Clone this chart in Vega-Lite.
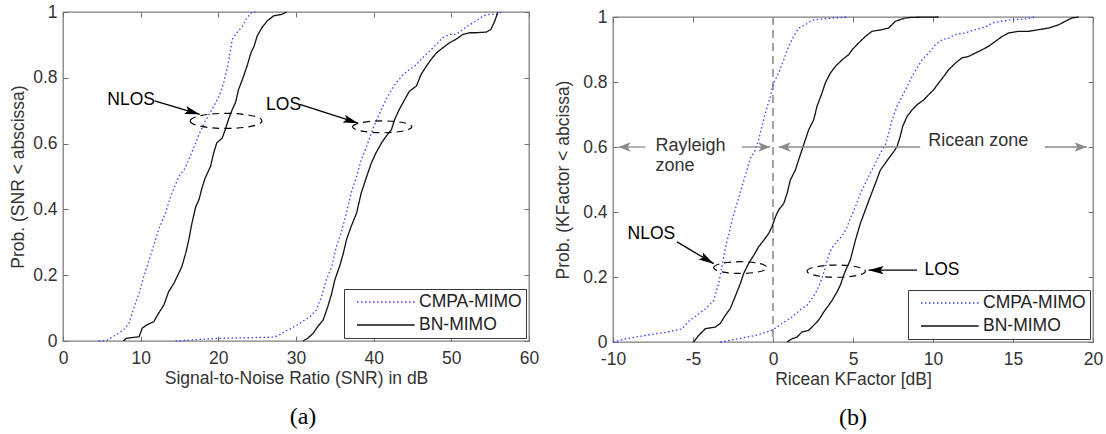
{
  "$schema": "https://vega.github.io/schema/vega-lite/v6.json",
  "background": "white",
  "padding": {"left": 9, "top": 2, "right": 0, "bottom": 0},
  "config": {
    "font": "Liberation Sans",
    "view": {"stroke": "#7f7f7f", "strokeWidth": 1.3},
    "axis": {"grid": false, "domain": false, "ticks": true, "tickSize": -5, "tickColor": "#707070", "tickWidth": 1, "labelFontSize": 17.5, "labelColor": "#333333", "titleFontSize": 17.5, "titleFontWeight": "normal", "titleColor": "#333333", "labelFlush": false, "labelOverlap": false, "labelBound": false},
    "legend": {"orient": "bottom-right", "offset": 3, "padding": 4, "fillColor": "white", "strokeColor": "#3a3a3a", "labelFontSize": 17.5, "labelColor": "#222222", "symbolType": "M0,0L7.2,0", "symbolSize": 256, "symbolStrokeWidth": 1.5, "labelOffset": 53, "rowPadding": 5},
    "title": {"font": "Liberation Serif", "fontSize": 24, "fontWeight": "normal", "color": "#000000"}
  },
  "datasets": {
    "a_curves": [
      {"method":"CMPA-MIMO","scen":"NLOS","x":4.6,"p":0},{"method":"CMPA-MIMO","scen":"NLOS","x":5.7,"p":0.003},{"method":"CMPA-MIMO","scen":"NLOS","x":6.8,"p":0.018},{"method":"CMPA-MIMO","scen":"NLOS","x":7.8,"p":0.034},{"method":"CMPA-MIMO","scen":"NLOS","x":8.5,"p":0.054},{"method":"CMPA-MIMO","scen":"NLOS","x":9.1,"p":0.1},{"method":"CMPA-MIMO","scen":"NLOS","x":9.8,"p":0.145},{"method":"CMPA-MIMO","scen":"NLOS","x":10.4,"p":0.196},{"method":"CMPA-MIMO","scen":"NLOS","x":11.1,"p":0.247},{"method":"CMPA-MIMO","scen":"NLOS","x":11.7,"p":0.292},{"method":"CMPA-MIMO","scen":"NLOS","x":12.3,"p":0.338},{"method":"CMPA-MIMO","scen":"NLOS","x":13.2,"p":0.389},{"method":"CMPA-MIMO","scen":"NLOS","x":13.8,"p":0.435},{"method":"CMPA-MIMO","scen":"NLOS","x":14.3,"p":0.465},{"method":"CMPA-MIMO","scen":"NLOS","x":14.9,"p":0.5},{"method":"CMPA-MIMO","scen":"NLOS","x":15.6,"p":0.521},{"method":"CMPA-MIMO","scen":"NLOS","x":16.2,"p":0.551},{"method":"CMPA-MIMO","scen":"NLOS","x":16.9,"p":0.592},{"method":"CMPA-MIMO","scen":"NLOS","x":17.5,"p":0.627},{"method":"CMPA-MIMO","scen":"NLOS","x":18.3,"p":0.668},{"method":"CMPA-MIMO","scen":"NLOS","x":19.2,"p":0.704},{"method":"CMPA-MIMO","scen":"NLOS","x":20.1,"p":0.744},{"method":"CMPA-MIMO","scen":"NLOS","x":20.7,"p":0.785},{"method":"CMPA-MIMO","scen":"NLOS","x":21.3,"p":0.846},{"method":"CMPA-MIMO","scen":"NLOS","x":21.8,"p":0.917},{"method":"CMPA-MIMO","scen":"NLOS","x":22.4,"p":0.937},{"method":"CMPA-MIMO","scen":"NLOS","x":23.1,"p":0.957},{"method":"CMPA-MIMO","scen":"NLOS","x":23.7,"p":0.983},{"method":"CMPA-MIMO","scen":"NLOS","x":24.3,"p":0.998},{"method":"CMPA-MIMO","scen":"NLOS","x":24.8,"p":1},
      {"method":"BN-MIMO","scen":"NLOS","x":7.8,"p":0},{"method":"BN-MIMO","scen":"NLOS","x":8.1,"p":0.008},{"method":"BN-MIMO","scen":"NLOS","x":9.8,"p":0.013},{"method":"BN-MIMO","scen":"NLOS","x":10.2,"p":0.039},{"method":"BN-MIMO","scen":"NLOS","x":10.8,"p":0.049},{"method":"BN-MIMO","scen":"NLOS","x":11.7,"p":0.059},{"method":"BN-MIMO","scen":"NLOS","x":12.3,"p":0.084},{"method":"BN-MIMO","scen":"NLOS","x":13.0,"p":0.11},{"method":"BN-MIMO","scen":"NLOS","x":13.6,"p":0.15},{"method":"BN-MIMO","scen":"NLOS","x":14.3,"p":0.176},{"method":"BN-MIMO","scen":"NLOS","x":14.9,"p":0.206},{"method":"BN-MIMO","scen":"NLOS","x":15.3,"p":0.226},{"method":"BN-MIMO","scen":"NLOS","x":15.8,"p":0.267},{"method":"BN-MIMO","scen":"NLOS","x":16.2,"p":0.308},{"method":"BN-MIMO","scen":"NLOS","x":16.6,"p":0.358},{"method":"BN-MIMO","scen":"NLOS","x":17.1,"p":0.409},{"method":"BN-MIMO","scen":"NLOS","x":17.5,"p":0.429},{"method":"BN-MIMO","scen":"NLOS","x":17.9,"p":0.465},{"method":"BN-MIMO","scen":"NLOS","x":18.3,"p":0.495},{"method":"BN-MIMO","scen":"NLOS","x":19.0,"p":0.531},{"method":"BN-MIMO","scen":"NLOS","x":19.4,"p":0.572},{"method":"BN-MIMO","scen":"NLOS","x":19.8,"p":0.602},{"method":"BN-MIMO","scen":"NLOS","x":20.5,"p":0.617},{"method":"BN-MIMO","scen":"NLOS","x":20.9,"p":0.643},{"method":"BN-MIMO","scen":"NLOS","x":21.3,"p":0.673},{"method":"BN-MIMO","scen":"NLOS","x":21.8,"p":0.704},{"method":"BN-MIMO","scen":"NLOS","x":22.2,"p":0.724},{"method":"BN-MIMO","scen":"NLOS","x":22.6,"p":0.764},{"method":"BN-MIMO","scen":"NLOS","x":23.1,"p":0.795},{"method":"BN-MIMO","scen":"NLOS","x":23.7,"p":0.836},{"method":"BN-MIMO","scen":"NLOS","x":24.2,"p":0.876},{"method":"BN-MIMO","scen":"NLOS","x":24.6,"p":0.896},{"method":"BN-MIMO","scen":"NLOS","x":25.0,"p":0.927},{"method":"BN-MIMO","scen":"NLOS","x":25.6,"p":0.952},{"method":"BN-MIMO","scen":"NLOS","x":26.3,"p":0.973},{"method":"BN-MIMO","scen":"NLOS","x":27.1,"p":0.988},{"method":"BN-MIMO","scen":"NLOS","x":28.2,"p":0.993},{"method":"BN-MIMO","scen":"NLOS","x":28.8,"p":1},
      {"method":"CMPA-MIMO","scen":"LOS","x":14.5,"p":0},{"method":"CMPA-MIMO","scen":"LOS","x":17,"p":0.004},{"method":"CMPA-MIMO","scen":"LOS","x":20,"p":0.008},{"method":"CMPA-MIMO","scen":"LOS","x":24,"p":0.01},{"method":"CMPA-MIMO","scen":"LOS","x":27.2,"p":0.012},{"method":"CMPA-MIMO","scen":"LOS","x":28.0,"p":0.02},{"method":"CMPA-MIMO","scen":"LOS","x":28.6,"p":0.03},{"method":"CMPA-MIMO","scen":"LOS","x":29.2,"p":0.036},{"method":"CMPA-MIMO","scen":"LOS","x":30.5,"p":0.054},{"method":"CMPA-MIMO","scen":"LOS","x":31.8,"p":0.074},{"method":"CMPA-MIMO","scen":"LOS","x":32.6,"p":0.094},{"method":"CMPA-MIMO","scen":"LOS","x":33.3,"p":0.135},{"method":"CMPA-MIMO","scen":"LOS","x":33.9,"p":0.186},{"method":"CMPA-MIMO","scen":"LOS","x":34.6,"p":0.226},{"method":"CMPA-MIMO","scen":"LOS","x":35.2,"p":0.287},{"method":"CMPA-MIMO","scen":"LOS","x":35.8,"p":0.328},{"method":"CMPA-MIMO","scen":"LOS","x":36.5,"p":0.389},{"method":"CMPA-MIMO","scen":"LOS","x":37.1,"p":0.45},{"method":"CMPA-MIMO","scen":"LOS","x":37.8,"p":0.5},{"method":"CMPA-MIMO","scen":"LOS","x":38.4,"p":0.551},{"method":"CMPA-MIMO","scen":"LOS","x":39.1,"p":0.592},{"method":"CMPA-MIMO","scen":"LOS","x":39.7,"p":0.632},{"method":"CMPA-MIMO","scen":"LOS","x":40.3,"p":0.668},{"method":"CMPA-MIMO","scen":"LOS","x":41.0,"p":0.704},{"method":"CMPA-MIMO","scen":"LOS","x":41.6,"p":0.734},{"method":"CMPA-MIMO","scen":"LOS","x":42.3,"p":0.764},{"method":"CMPA-MIMO","scen":"LOS","x":42.9,"p":0.785},{"method":"CMPA-MIMO","scen":"LOS","x":43.8,"p":0.81},{"method":"CMPA-MIMO","scen":"LOS","x":44.6,"p":0.825},{"method":"CMPA-MIMO","scen":"LOS","x":45.5,"p":0.84},{"method":"CMPA-MIMO","scen":"LOS","x":46.3,"p":0.861},{"method":"CMPA-MIMO","scen":"LOS","x":47.2,"p":0.881},{"method":"CMPA-MIMO","scen":"LOS","x":48.1,"p":0.902},{"method":"CMPA-MIMO","scen":"LOS","x":48.9,"p":0.922},{"method":"CMPA-MIMO","scen":"LOS","x":49.8,"p":0.932},{"method":"CMPA-MIMO","scen":"LOS","x":50.6,"p":0.932},{"method":"CMPA-MIMO","scen":"LOS","x":51.5,"p":0.947},{"method":"CMPA-MIMO","scen":"LOS","x":52.4,"p":0.962},{"method":"CMPA-MIMO","scen":"LOS","x":53.2,"p":0.973},{"method":"CMPA-MIMO","scen":"LOS","x":54.1,"p":0.988},{"method":"CMPA-MIMO","scen":"LOS","x":54.9,"p":0.993},{"method":"CMPA-MIMO","scen":"LOS","x":55.8,"p":0.993},{"method":"CMPA-MIMO","scen":"LOS","x":56.6,"p":1},
      {"method":"BN-MIMO","scen":"LOS","x":30.9,"p":0},{"method":"BN-MIMO","scen":"LOS","x":31.5,"p":0.008},{"method":"BN-MIMO","scen":"LOS","x":32.2,"p":0.023},{"method":"BN-MIMO","scen":"LOS","x":32.8,"p":0.044},{"method":"BN-MIMO","scen":"LOS","x":33.5,"p":0.064},{"method":"BN-MIMO","scen":"LOS","x":34.1,"p":0.105},{"method":"BN-MIMO","scen":"LOS","x":34.6,"p":0.145},{"method":"BN-MIMO","scen":"LOS","x":35.0,"p":0.186},{"method":"BN-MIMO","scen":"LOS","x":35.6,"p":0.226},{"method":"BN-MIMO","scen":"LOS","x":36.1,"p":0.267},{"method":"BN-MIMO","scen":"LOS","x":36.5,"p":0.308},{"method":"BN-MIMO","scen":"LOS","x":37.1,"p":0.348},{"method":"BN-MIMO","scen":"LOS","x":37.8,"p":0.389},{"method":"BN-MIMO","scen":"LOS","x":38.4,"p":0.45},{"method":"BN-MIMO","scen":"LOS","x":39.1,"p":0.5},{"method":"BN-MIMO","scen":"LOS","x":39.7,"p":0.541},{"method":"BN-MIMO","scen":"LOS","x":40.3,"p":0.572},{"method":"BN-MIMO","scen":"LOS","x":41.0,"p":0.602},{"method":"BN-MIMO","scen":"LOS","x":41.6,"p":0.622},{"method":"BN-MIMO","scen":"LOS","x":42.3,"p":0.643},{"method":"BN-MIMO","scen":"LOS","x":42.7,"p":0.673},{"method":"BN-MIMO","scen":"LOS","x":43.3,"p":0.704},{"method":"BN-MIMO","scen":"LOS","x":44.0,"p":0.734},{"method":"BN-MIMO","scen":"LOS","x":44.6,"p":0.759},{"method":"BN-MIMO","scen":"LOS","x":45.5,"p":0.775},{"method":"BN-MIMO","scen":"LOS","x":46.1,"p":0.81},{"method":"BN-MIMO","scen":"LOS","x":46.8,"p":0.836},{"method":"BN-MIMO","scen":"LOS","x":47.4,"p":0.856},{"method":"BN-MIMO","scen":"LOS","x":48.1,"p":0.876},{"method":"BN-MIMO","scen":"LOS","x":48.9,"p":0.891},{"method":"BN-MIMO","scen":"LOS","x":49.8,"p":0.907},{"method":"BN-MIMO","scen":"LOS","x":50.6,"p":0.917},{"method":"BN-MIMO","scen":"LOS","x":51.5,"p":0.932},{"method":"BN-MIMO","scen":"LOS","x":52.4,"p":0.937},{"method":"BN-MIMO","scen":"LOS","x":53.2,"p":0.937},{"method":"BN-MIMO","scen":"LOS","x":54.5,"p":0.939},{"method":"BN-MIMO","scen":"LOS","x":55.1,"p":0.947},{"method":"BN-MIMO","scen":"LOS","x":55.6,"p":0.973},{"method":"BN-MIMO","scen":"LOS","x":56.0,"p":1}
    ],
    "b_curves": [
      {"method":"CMPA-MIMO","scen":"NLOS","x":-10,"p":0},{"method":"CMPA-MIMO","scen":"NLOS","x":-9.2,"p":0.01},{"method":"CMPA-MIMO","scen":"NLOS","x":-8.0,"p":0.02},{"method":"CMPA-MIMO","scen":"NLOS","x":-6.7,"p":0.03},{"method":"CMPA-MIMO","scen":"NLOS","x":-5.7,"p":0.04},{"method":"CMPA-MIMO","scen":"NLOS","x":-5.2,"p":0.067},{"method":"CMPA-MIMO","scen":"NLOS","x":-4.75,"p":0.082},{"method":"CMPA-MIMO","scen":"NLOS","x":-4.2,"p":0.103},{"method":"CMPA-MIMO","scen":"NLOS","x":-3.7,"p":0.128},{"method":"CMPA-MIMO","scen":"NLOS","x":-3.4,"p":0.18},{"method":"CMPA-MIMO","scen":"NLOS","x":-3.2,"p":0.23},{"method":"CMPA-MIMO","scen":"NLOS","x":-3.0,"p":0.283},{"method":"CMPA-MIMO","scen":"NLOS","x":-2.8,"p":0.324},{"method":"CMPA-MIMO","scen":"NLOS","x":-2.56,"p":0.375},{"method":"CMPA-MIMO","scen":"NLOS","x":-2.25,"p":0.426},{"method":"CMPA-MIMO","scen":"NLOS","x":-1.94,"p":0.478},{"method":"CMPA-MIMO","scen":"NLOS","x":-1.63,"p":0.529},{"method":"CMPA-MIMO","scen":"NLOS","x":-1.42,"p":0.565},{"method":"CMPA-MIMO","scen":"NLOS","x":-1.1,"p":0.591},{"method":"CMPA-MIMO","scen":"NLOS","x":-0.9,"p":0.622},{"method":"CMPA-MIMO","scen":"NLOS","x":-0.69,"p":0.663},{"method":"CMPA-MIMO","scen":"NLOS","x":-0.48,"p":0.704},{"method":"CMPA-MIMO","scen":"NLOS","x":-0.17,"p":0.755},{"method":"CMPA-MIMO","scen":"NLOS","x":0.04,"p":0.797},{"method":"CMPA-MIMO","scen":"NLOS","x":0.35,"p":0.827},{"method":"CMPA-MIMO","scen":"NLOS","x":0.67,"p":0.868},{"method":"CMPA-MIMO","scen":"NLOS","x":0.98,"p":0.91},{"method":"CMPA-MIMO","scen":"NLOS","x":1.29,"p":0.94},{"method":"CMPA-MIMO","scen":"NLOS","x":1.6,"p":0.966},{"method":"CMPA-MIMO","scen":"NLOS","x":2.02,"p":0.976},{"method":"CMPA-MIMO","scen":"NLOS","x":2.44,"p":0.99},{"method":"CMPA-MIMO","scen":"NLOS","x":3.06,"p":0.994},{"method":"CMPA-MIMO","scen":"NLOS","x":3.9,"p":0.997},{"method":"CMPA-MIMO","scen":"NLOS","x":4.7,"p":1},
      {"method":"BN-MIMO","scen":"NLOS","x":-4.96,"p":0},{"method":"BN-MIMO","scen":"NLOS","x":-4.65,"p":0.02},{"method":"BN-MIMO","scen":"NLOS","x":-4.23,"p":0.041},{"method":"BN-MIMO","scen":"NLOS","x":-3.6,"p":0.046},{"method":"BN-MIMO","scen":"NLOS","x":-3.3,"p":0.057},{"method":"BN-MIMO","scen":"NLOS","x":-2.98,"p":0.082},{"method":"BN-MIMO","scen":"NLOS","x":-2.67,"p":0.103},{"method":"BN-MIMO","scen":"NLOS","x":-2.46,"p":0.128},{"method":"BN-MIMO","scen":"NLOS","x":-2.25,"p":0.154},{"method":"BN-MIMO","scen":"NLOS","x":-2.04,"p":0.18},{"method":"BN-MIMO","scen":"NLOS","x":-1.83,"p":0.211},{"method":"BN-MIMO","scen":"NLOS","x":-1.52,"p":0.242},{"method":"BN-MIMO","scen":"NLOS","x":-1.2,"p":0.267},{"method":"BN-MIMO","scen":"NLOS","x":-0.9,"p":0.293},{"method":"BN-MIMO","scen":"NLOS","x":-0.58,"p":0.313},{"method":"BN-MIMO","scen":"NLOS","x":-0.27,"p":0.334},{"method":"BN-MIMO","scen":"NLOS","x":-0.06,"p":0.355},{"method":"BN-MIMO","scen":"NLOS","x":0.15,"p":0.385},{"method":"BN-MIMO","scen":"NLOS","x":0.35,"p":0.406},{"method":"BN-MIMO","scen":"NLOS","x":0.67,"p":0.426},{"method":"BN-MIMO","scen":"NLOS","x":0.88,"p":0.457},{"method":"BN-MIMO","scen":"NLOS","x":1.08,"p":0.498},{"method":"BN-MIMO","scen":"NLOS","x":1.4,"p":0.529},{"method":"BN-MIMO","scen":"NLOS","x":1.6,"p":0.56},{"method":"BN-MIMO","scen":"NLOS","x":1.81,"p":0.591},{"method":"BN-MIMO","scen":"NLOS","x":2.02,"p":0.622},{"method":"BN-MIMO","scen":"NLOS","x":2.23,"p":0.653},{"method":"BN-MIMO","scen":"NLOS","x":2.54,"p":0.683},{"method":"BN-MIMO","scen":"NLOS","x":2.75,"p":0.725},{"method":"BN-MIMO","scen":"NLOS","x":3.06,"p":0.766},{"method":"BN-MIMO","scen":"NLOS","x":3.27,"p":0.797},{"method":"BN-MIMO","scen":"NLOS","x":3.58,"p":0.827},{"method":"BN-MIMO","scen":"NLOS","x":3.9,"p":0.848},{"method":"BN-MIMO","scen":"NLOS","x":4.31,"p":0.868},{"method":"BN-MIMO","scen":"NLOS","x":4.73,"p":0.884},{"method":"BN-MIMO","scen":"NLOS","x":4.94,"p":0.899},{"method":"BN-MIMO","scen":"NLOS","x":5.35,"p":0.92},{"method":"BN-MIMO","scen":"NLOS","x":5.77,"p":0.94},{"method":"BN-MIMO","scen":"NLOS","x":6.19,"p":0.956},{"method":"BN-MIMO","scen":"NLOS","x":6.81,"p":0.961},{"method":"BN-MIMO","scen":"NLOS","x":7.23,"p":0.966},{"method":"BN-MIMO","scen":"NLOS","x":7.65,"p":0.987},{"method":"BN-MIMO","scen":"NLOS","x":8.27,"p":0.997},{"method":"BN-MIMO","scen":"NLOS","x":8.69,"p":0.999},{"method":"BN-MIMO","scen":"NLOS","x":10.35,"p":1},
      {"method":"CMPA-MIMO","scen":"LOS","x":-3.3,"p":0},{"method":"CMPA-MIMO","scen":"LOS","x":-2.15,"p":0.01},{"method":"CMPA-MIMO","scen":"LOS","x":-1.1,"p":0.02},{"method":"CMPA-MIMO","scen":"LOS","x":-0.06,"p":0.036},{"method":"CMPA-MIMO","scen":"LOS","x":0.56,"p":0.057},{"method":"CMPA-MIMO","scen":"LOS","x":1.19,"p":0.077},{"method":"CMPA-MIMO","scen":"LOS","x":1.81,"p":0.103},{"method":"CMPA-MIMO","scen":"LOS","x":2.13,"p":0.113},{"method":"CMPA-MIMO","scen":"LOS","x":2.44,"p":0.134},{"method":"CMPA-MIMO","scen":"LOS","x":2.75,"p":0.159},{"method":"CMPA-MIMO","scen":"LOS","x":3.06,"p":0.195},{"method":"CMPA-MIMO","scen":"LOS","x":3.27,"p":0.231},{"method":"CMPA-MIMO","scen":"LOS","x":3.48,"p":0.267},{"method":"CMPA-MIMO","scen":"LOS","x":3.69,"p":0.29},{"method":"CMPA-MIMO","scen":"LOS","x":4.0,"p":0.31},{"method":"CMPA-MIMO","scen":"LOS","x":4.3,"p":0.325},{"method":"CMPA-MIMO","scen":"LOS","x":4.6,"p":0.35},{"method":"CMPA-MIMO","scen":"LOS","x":4.83,"p":0.38},{"method":"CMPA-MIMO","scen":"LOS","x":5.15,"p":0.416},{"method":"CMPA-MIMO","scen":"LOS","x":5.46,"p":0.457},{"method":"CMPA-MIMO","scen":"LOS","x":5.77,"p":0.488},{"method":"CMPA-MIMO","scen":"LOS","x":6.08,"p":0.519},{"method":"CMPA-MIMO","scen":"LOS","x":6.4,"p":0.55},{"method":"CMPA-MIMO","scen":"LOS","x":6.71,"p":0.581},{"method":"CMPA-MIMO","scen":"LOS","x":7.02,"p":0.606},{"method":"CMPA-MIMO","scen":"LOS","x":7.23,"p":0.642},{"method":"CMPA-MIMO","scen":"LOS","x":7.44,"p":0.683},{"method":"CMPA-MIMO","scen":"LOS","x":7.75,"p":0.725},{"method":"CMPA-MIMO","scen":"LOS","x":8.06,"p":0.755},{"method":"CMPA-MIMO","scen":"LOS","x":8.38,"p":0.786},{"method":"CMPA-MIMO","scen":"LOS","x":8.69,"p":0.817},{"method":"CMPA-MIMO","scen":"LOS","x":9.0,"p":0.843},{"method":"CMPA-MIMO","scen":"LOS","x":9.31,"p":0.868},{"method":"CMPA-MIMO","scen":"LOS","x":9.73,"p":0.889},{"method":"CMPA-MIMO","scen":"LOS","x":10.15,"p":0.915},{"method":"CMPA-MIMO","scen":"LOS","x":10.56,"p":0.93},{"method":"CMPA-MIMO","scen":"LOS","x":10.98,"p":0.935},{"method":"CMPA-MIMO","scen":"LOS","x":11.4,"p":0.946},{"method":"CMPA-MIMO","scen":"LOS","x":12.02,"p":0.951},{"method":"CMPA-MIMO","scen":"LOS","x":12.65,"p":0.961},{"method":"CMPA-MIMO","scen":"LOS","x":13.27,"p":0.969},{"method":"CMPA-MIMO","scen":"LOS","x":13.69,"p":0.981},{"method":"CMPA-MIMO","scen":"LOS","x":14.31,"p":0.987},{"method":"CMPA-MIMO","scen":"LOS","x":14.94,"p":0.992},{"method":"CMPA-MIMO","scen":"LOS","x":15.77,"p":0.994},{"method":"CMPA-MIMO","scen":"LOS","x":16.4,"p":1},
      {"method":"BN-MIMO","scen":"LOS","x":0.88,"p":0},{"method":"BN-MIMO","scen":"LOS","x":1.19,"p":0.01},{"method":"BN-MIMO","scen":"LOS","x":1.5,"p":0.015},{"method":"BN-MIMO","scen":"LOS","x":1.81,"p":0.031},{"method":"BN-MIMO","scen":"LOS","x":2.23,"p":0.036},{"method":"BN-MIMO","scen":"LOS","x":2.54,"p":0.051},{"method":"BN-MIMO","scen":"LOS","x":2.85,"p":0.067},{"method":"BN-MIMO","scen":"LOS","x":3.17,"p":0.092},{"method":"BN-MIMO","scen":"LOS","x":3.48,"p":0.113},{"method":"BN-MIMO","scen":"LOS","x":3.69,"p":0.128},{"method":"BN-MIMO","scen":"LOS","x":4.0,"p":0.154},{"method":"BN-MIMO","scen":"LOS","x":4.21,"p":0.175},{"method":"BN-MIMO","scen":"LOS","x":4.42,"p":0.206},{"method":"BN-MIMO","scen":"LOS","x":4.63,"p":0.231},{"method":"BN-MIMO","scen":"LOS","x":4.83,"p":0.252},{"method":"BN-MIMO","scen":"LOS","x":5.15,"p":0.313},{"method":"BN-MIMO","scen":"LOS","x":5.46,"p":0.365},{"method":"BN-MIMO","scen":"LOS","x":5.77,"p":0.406},{"method":"BN-MIMO","scen":"LOS","x":6.08,"p":0.447},{"method":"BN-MIMO","scen":"LOS","x":6.4,"p":0.488},{"method":"BN-MIMO","scen":"LOS","x":6.71,"p":0.529},{"method":"BN-MIMO","scen":"LOS","x":7.02,"p":0.55},{"method":"BN-MIMO","scen":"LOS","x":7.23,"p":0.565},{"method":"BN-MIMO","scen":"LOS","x":7.54,"p":0.585},{"method":"BN-MIMO","scen":"LOS","x":7.75,"p":0.601},{"method":"BN-MIMO","scen":"LOS","x":7.95,"p":0.632},{"method":"BN-MIMO","scen":"LOS","x":8.1,"p":0.663},{"method":"BN-MIMO","scen":"LOS","x":8.38,"p":0.694},{"method":"BN-MIMO","scen":"LOS","x":8.69,"p":0.714},{"method":"BN-MIMO","scen":"LOS","x":9.0,"p":0.73},{"method":"BN-MIMO","scen":"LOS","x":9.42,"p":0.745},{"method":"BN-MIMO","scen":"LOS","x":9.73,"p":0.761},{"method":"BN-MIMO","scen":"LOS","x":10.04,"p":0.776},{"method":"BN-MIMO","scen":"LOS","x":10.35,"p":0.797},{"method":"BN-MIMO","scen":"LOS","x":10.67,"p":0.817},{"method":"BN-MIMO","scen":"LOS","x":10.98,"p":0.838},{"method":"BN-MIMO","scen":"LOS","x":11.4,"p":0.858},{"method":"BN-MIMO","scen":"LOS","x":11.81,"p":0.874},{"method":"BN-MIMO","scen":"LOS","x":12.23,"p":0.879},{"method":"BN-MIMO","scen":"LOS","x":12.65,"p":0.889},{"method":"BN-MIMO","scen":"LOS","x":13.06,"p":0.899},{"method":"BN-MIMO","scen":"LOS","x":13.48,"p":0.91},{"method":"BN-MIMO","scen":"LOS","x":13.9,"p":0.925},{"method":"BN-MIMO","scen":"LOS","x":14.31,"p":0.94},{"method":"BN-MIMO","scen":"LOS","x":14.73,"p":0.951},{"method":"BN-MIMO","scen":"LOS","x":15.35,"p":0.956},{"method":"BN-MIMO","scen":"LOS","x":15.98,"p":0.956},{"method":"BN-MIMO","scen":"LOS","x":16.6,"p":0.961},{"method":"BN-MIMO","scen":"LOS","x":17.23,"p":0.966},{"method":"BN-MIMO","scen":"LOS","x":17.85,"p":0.976},{"method":"BN-MIMO","scen":"LOS","x":18.27,"p":0.987},{"method":"BN-MIMO","scen":"LOS","x":18.69,"p":0.997},{"method":"BN-MIMO","scen":"LOS","x":19.1,"p":1}
    ],
    "a_text": [{"label":"NLOS","x":8.78,"p":0.734},{"label":"LOS","x":28.4,"p":0.716}],
    "a_arrows": [{"id":"nlos","x":11.8,"p":0.73,"x2":17.6,"p2":0.689},{"id":"los","x":30.5,"p":0.719,"x2":38.0,"p2":0.662}],
    "a_ell": [{"id":"nlos","x":21.0,"p":0.669},{"id":"los","x":41.1,"p":0.651}],
    "b_text": [{"label":"NLOS","x":-7.6,"p":0.331},{"label":"LOS","x":10.56,"p":0.221}],
    "b_arrows": [{"id":"nlos","x":-6.0,"p":0.308,"x2":-3.71,"p2":0.241},{"id":"los","x":9.0,"p":0.221,"x2":5.97,"p2":0.221}],
    "b_zone_arrows": [{"id":"r1","x":-7.98,"p":0.6,"x2":-9.65,"p2":0.6},{"id":"r2","x":-1.94,"p":0.6,"x2":-0.17,"p2":0.6},{"id":"r3","x":9.2,"p":0.6,"x2":0.35,"p2":0.6},{"id":"r4","x":17.0,"p":0.6,"x2":19.6,"p2":0.6}],
    "b_zone_text": [{"label":"Rayleigh","x":-7.35,"p":0.603,"side":"left"},{"label":"zone","x":-7.35,"p":0.541,"side":"left"},{"label":"Ricean zone","x":12.83,"p":0.619,"side":"right"}],
    "b_ell": [{"id":"nlos","x":-2.04,"p":0.229},{"id":"los","x":3.95,"p":0.218}],
    "b_zero": [{"x":0}]
  },
  "hconcat": [
    {
      "width": 466,
      "height": 329,
      "title": {"text": "(a)", "orient": "bottom", "frame": "group", "offset": 18, "dx": 7},
      "layer": [
        {
          "data": {"name": "a_curves"},
          "mark": {"type": "line", "strokeWidth": 1.3},
          "encoding": {
            "x": {"field": "x", "type": "quantitative", "scale": {"domain": [0, 60], "nice": false, "zero": false}, "axis": {"values": [0, 10, 20, 30, 40, 50, 60], "title": "Signal-to-Noise Ratio (SNR) in dB", "labelPadding": 13, "titlePadding": 3}},
            "y": {"field": "p", "type": "quantitative", "scale": {"domain": [0, 1], "nice": false}, "axis": {"values": [0, 0.2, 0.4, 0.6, 0.8, 1], "format": "~g", "title": "Prob. (SNR < abscissa)", "labelPadding": 11, "titlePadding": 5}},
            "color": {"field": "method", "type": "nominal", "scale": {"domain": ["CMPA-MIMO", "BN-MIMO"], "range": ["#3344ff", "#111111"]}, "legend": {"title": null}},
            "strokeDash": {"field": "method", "type": "nominal", "scale": {"domain": ["CMPA-MIMO", "BN-MIMO"], "range": [[1.5, 2.5], [1, 0]]}, "legend": {"title": null}},
            "detail": {"field": "scen", "type": "nominal"}
          }
        },
        {
          "data": {"name": "a_curves"},
          "mark": {"type": "line", "opacity": 0},
          "encoding": {
            "x": {"field": "x", "type": "quantitative", "axis": {"orient": "top", "values": [0, 10, 20, 30, 40, 50, 60], "labels": false, "title": null}},
            "y": {"field": "p", "type": "quantitative", "axis": {"orient": "right", "values": [0, 0.2, 0.4, 0.6, 0.8, 1], "labels": false, "title": null}},
            "detail": {"field": "scen", "type": "nominal"}
          }
        },
        {
          "data": {"name": "a_ell"},
          "transform": [{"filter": "datum.id == 'nlos'"}],
          "mark": {"type": "point", "shape": "M-1,0A1,0.21,0,1,1,1,0A1,0.21,0,1,1,-1,0Z", "size": 5141, "filled": false, "color": "#000000", "opacity": 1, "strokeWidth": 1.2, "strokeDash": [7, 5]},
          "encoding": {"x": {"field": "x", "type": "quantitative", "axis": null}, "y": {"field": "p", "type": "quantitative", "axis": null}}
        },
        {
          "data": {"name": "a_ell"},
          "transform": [{"filter": "datum.id == 'los'"}],
          "mark": {"type": "point", "shape": "M-1,0A1,0.2,0,1,1,1,0A1,0.2,0,1,1,-1,0Z", "size": 3516, "filled": false, "color": "#000000", "opacity": 1, "strokeWidth": 1.2, "strokeDash": [7, 5]},
          "encoding": {"x": {"field": "x", "type": "quantitative", "axis": null}, "y": {"field": "p", "type": "quantitative", "axis": null}}
        },
        {
          "data": {"name": "a_arrows"},
          "mark": {"type": "rule", "color": "#000000", "strokeWidth": 1.3},
          "encoding": {"x": {"field": "x", "type": "quantitative", "axis": null}, "y": {"field": "p", "type": "quantitative", "axis": null}, "x2": {"field": "x2"}, "y2": {"field": "p2"}}
        },
        {
          "data": {"name": "a_arrows"},
          "transform": [{"filter": "datum.id == 'nlos'"}],
          "mark": {"type": "point", "shape": "M0,0L-2,-0.55L-1.6,0L-2,0.55Z", "size": 225, "filled": true, "color": "#000000", "opacity": 1, "angle": 16.7},
          "encoding": {"x": {"field": "x2", "type": "quantitative", "axis": null}, "y": {"field": "p2", "type": "quantitative", "axis": null}}
        },
        {
          "data": {"name": "a_arrows"},
          "transform": [{"filter": "datum.id == 'los'"}],
          "mark": {"type": "point", "shape": "M0,0L-2,-0.55L-1.6,0L-2,0.55Z", "size": 225, "filled": true, "color": "#000000", "opacity": 1, "angle": 17.9},
          "encoding": {"x": {"field": "x2", "type": "quantitative", "axis": null}, "y": {"field": "p2", "type": "quantitative", "axis": null}}
        },
        {
          "data": {"name": "a_text"},
          "mark": {"type": "text", "fontSize": 17.5, "color": "#000000", "align": "center", "baseline": "middle"},
          "encoding": {"x": {"field": "x", "type": "quantitative", "axis": null}, "y": {"field": "p", "type": "quantitative", "axis": null}, "text": {"field": "label"}}
        }
      ],
      "resolve": {"axis": {"x": "independent", "y": "independent"}}
    },
    {
      "spacing": -6,
      "resolve": {"legend": {"color": "independent", "strokeDash": "independent"}},
      "vconcat": [
        {"width": 480, "height": 1, "data": {"values": []}, "mark": "point", "view": {"stroke": null}},
        {
          "width": 480,
          "height": 325,
          "title": {"text": "(b)", "orient": "bottom", "frame": "group", "offset": 18},
          "layer": [
            {
              "data": {"name": "b_zero"},
              "mark": {"type": "rule", "color": "#9a9a9a", "strokeWidth": 1.8, "strokeDash": [8, 5]},
              "encoding": {"x": {"field": "x", "type": "quantitative", "axis": null}}
            },
            {
              "data": {"name": "b_curves"},
              "mark": {"type": "line", "strokeWidth": 1.3},
              "encoding": {
                "x": {"field": "x", "type": "quantitative", "scale": {"domain": [-10, 20], "nice": false, "zero": false}, "axis": {"values": [-10, -5, 0, 5, 10, 15, 20], "labelExpr": "'' + datum.value", "title": "Ricean KFactor [dB]", "labelPadding": 13, "titlePadding": 3}},
                "y": {"field": "p", "type": "quantitative", "scale": {"domain": [0, 1], "nice": false}, "axis": {"values": [0, 0.2, 0.4, 0.6, 0.8, 1], "format": "~g", "title": "Prob. (KFactor < abcissa)", "labelPadding": 11, "titlePadding": 10}},
                "color": {"field": "method", "type": "nominal", "scale": {"domain": ["CMPA-MIMO", "BN-MIMO"], "range": ["#3344ff", "#111111"]}, "legend": {"title": null}},
                "strokeDash": {"field": "method", "type": "nominal", "scale": {"domain": ["CMPA-MIMO", "BN-MIMO"], "range": [[1.5, 2.5], [1, 0]]}, "legend": {"title": null}},
                "detail": {"field": "scen", "type": "nominal"}
              }
            },
            {
              "data": {"name": "b_curves"},
              "mark": {"type": "line", "opacity": 0},
              "encoding": {
                "x": {"field": "x", "type": "quantitative", "axis": {"orient": "top", "values": [-10, -5, 0, 5, 10, 15, 20], "labels": false, "title": null}},
                "y": {"field": "p", "type": "quantitative", "axis": {"orient": "right", "values": [0, 0.2, 0.4, 0.6, 0.8, 1], "labels": false, "title": null}},
                "detail": {"field": "scen", "type": "nominal"}
              }
            },
            {
              "data": {"name": "b_zone_arrows"},
              "mark": {"type": "rule", "color": "#8a8a8a", "strokeWidth": 1.3},
              "encoding": {"x": {"field": "x", "type": "quantitative", "axis": null}, "y": {"field": "p", "type": "quantitative", "axis": null}, "x2": {"field": "x2"}, "y2": {"field": "p2"}}
            },
            {
              "data": {"name": "b_zone_arrows"},
              "transform": [{"filter": "datum.id == 'r1' || datum.id == 'r3'"}],
              "mark": {"type": "point", "shape": "M0,0L-2,-0.8L-1.5,0L-2,0.8Z", "size": 144, "filled": true, "color": "#8a8a8a", "opacity": 1, "angle": 180},
              "encoding": {"x": {"field": "x2", "type": "quantitative", "axis": null}, "y": {"field": "p2", "type": "quantitative", "axis": null}}
            },
            {
              "data": {"name": "b_zone_arrows"},
              "transform": [{"filter": "datum.id == 'r2' || datum.id == 'r4'"}],
              "mark": {"type": "point", "shape": "M0,0L-2,-0.8L-1.5,0L-2,0.8Z", "size": 144, "filled": true, "color": "#8a8a8a", "opacity": 1, "angle": 0},
              "encoding": {"x": {"field": "x2", "type": "quantitative", "axis": null}, "y": {"field": "p2", "type": "quantitative", "axis": null}}
            },
            {
              "data": {"name": "b_zone_text"},
              "transform": [{"filter": "datum.side == 'left'"}],
              "mark": {"type": "text", "fontSize": 18, "color": "#333333", "align": "left", "baseline": "middle"},
              "encoding": {"x": {"field": "x", "type": "quantitative", "axis": null}, "y": {"field": "p", "type": "quantitative", "axis": null}, "text": {"field": "label"}}
            },
            {
              "data": {"name": "b_zone_text"},
              "transform": [{"filter": "datum.side == 'right'"}],
              "mark": {"type": "text", "fontSize": 18, "color": "#333333", "align": "center", "baseline": "middle"},
              "encoding": {"x": {"field": "x", "type": "quantitative", "axis": null}, "y": {"field": "p", "type": "quantitative", "axis": null}, "text": {"field": "label"}}
            },
            {
              "data": {"name": "b_ell"},
              "transform": [{"filter": "datum.id == 'nlos'"}],
              "mark": {"type": "point", "shape": "M-1,0A1,0.22,0,1,1,1,0A1,0.22,0,1,1,-1,0Z", "size": 2841, "filled": false, "color": "#000000", "opacity": 1, "strokeWidth": 1.2, "strokeDash": [7, 5]},
              "encoding": {"x": {"field": "x", "type": "quantitative", "axis": null}, "y": {"field": "p", "type": "quantitative", "axis": null}}
            },
            {
              "data": {"name": "b_ell"},
              "transform": [{"filter": "datum.id == 'los'"}],
              "mark": {"type": "point", "shape": "M-1,0A1,0.21,0,1,1,1,0A1,0.21,0,1,1,-1,0Z", "size": 3399, "filled": false, "color": "#000000", "opacity": 1, "strokeWidth": 1.2, "strokeDash": [7, 5]},
              "encoding": {"x": {"field": "x", "type": "quantitative", "axis": null}, "y": {"field": "p", "type": "quantitative", "axis": null}}
            },
            {
              "data": {"name": "b_arrows"},
              "mark": {"type": "rule", "color": "#000000", "strokeWidth": 1.3},
              "encoding": {"x": {"field": "x", "type": "quantitative", "axis": null}, "y": {"field": "p", "type": "quantitative", "axis": null}, "x2": {"field": "x2"}, "y2": {"field": "p2"}}
            },
            {
              "data": {"name": "b_arrows"},
              "transform": [{"filter": "datum.id == 'nlos'"}],
              "mark": {"type": "point", "shape": "M0,0L-2,-0.55L-1.6,0L-2,0.55Z", "size": 225, "filled": true, "color": "#000000", "opacity": 1, "angle": 30.7},
              "encoding": {"x": {"field": "x2", "type": "quantitative", "axis": null}, "y": {"field": "p2", "type": "quantitative", "axis": null}}
            },
            {
              "data": {"name": "b_arrows"},
              "transform": [{"filter": "datum.id == 'los'"}],
              "mark": {"type": "point", "shape": "M0,0L-2,-0.55L-1.6,0L-2,0.55Z", "size": 225, "filled": true, "color": "#000000", "opacity": 1, "angle": 180},
              "encoding": {"x": {"field": "x2", "type": "quantitative", "axis": null}, "y": {"field": "p2", "type": "quantitative", "axis": null}}
            },
            {
              "data": {"name": "b_text"},
              "mark": {"type": "text", "fontSize": 17.5, "color": "#000000", "align": "center", "baseline": "middle"},
              "encoding": {"x": {"field": "x", "type": "quantitative", "axis": null}, "y": {"field": "p", "type": "quantitative", "axis": null}, "text": {"field": "label"}}
            }
          ],
          "resolve": {"axis": {"x": "independent", "y": "independent"}}
        }
      ]
    }
  ],
  "spacing": 14,
  "resolve": {"legend": {"color": "independent", "strokeDash": "independent"}}
}
